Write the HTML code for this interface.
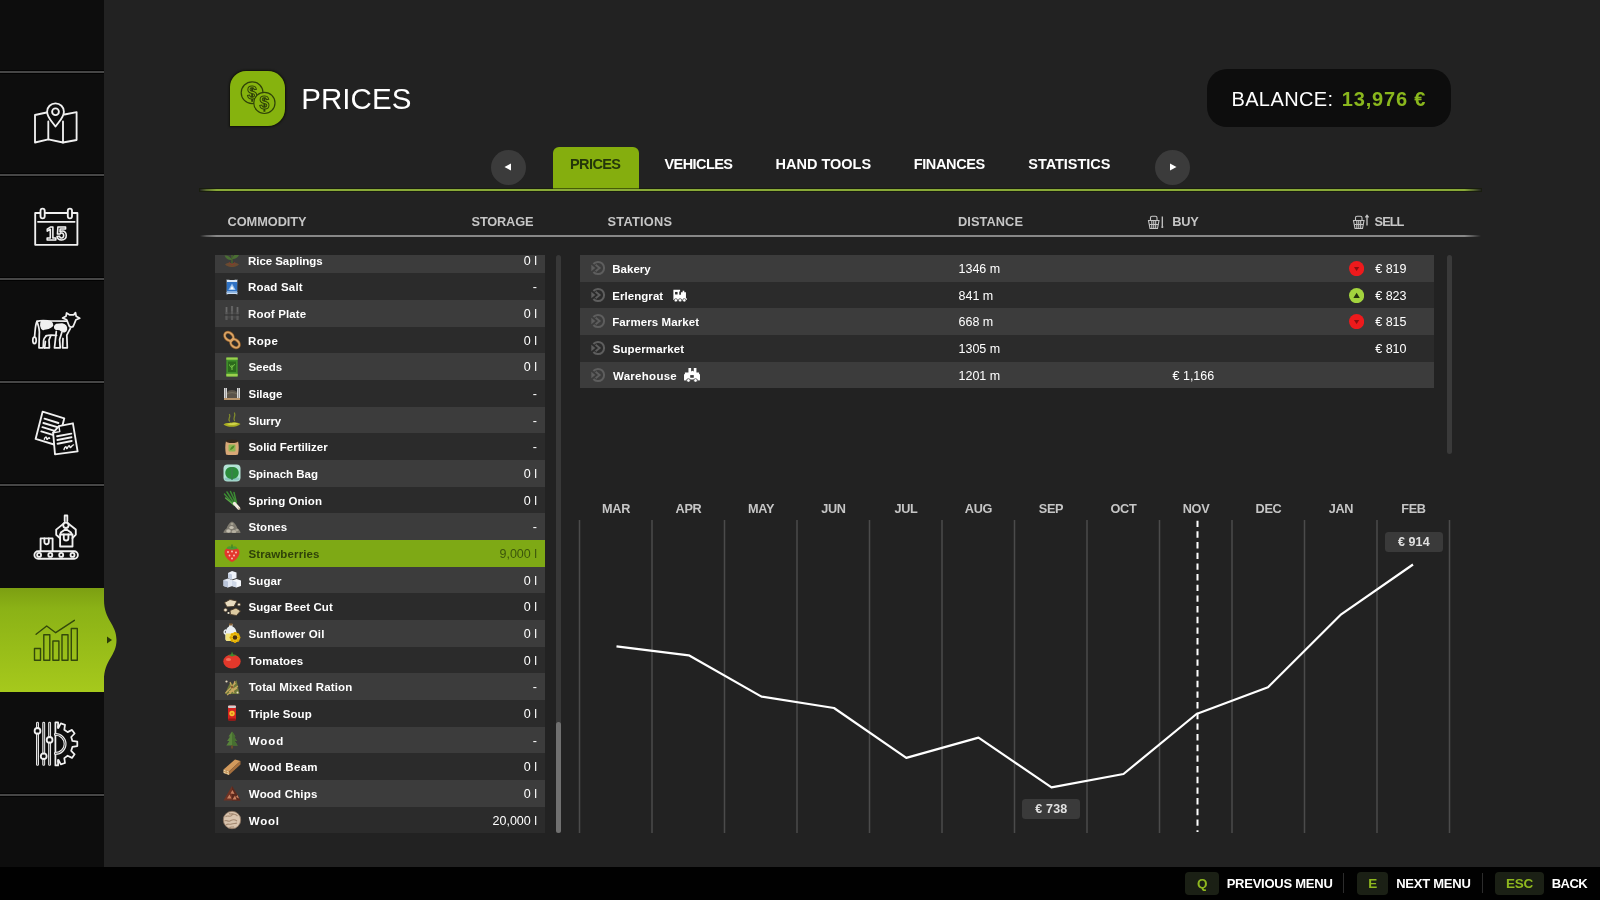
<!DOCTYPE html>
<html lang="en">
<head>
<meta charset="utf-8">
<title>Prices</title>
<style>
*{box-sizing:border-box;margin:0;padding:0}
html,body{width:1600px;height:900px;overflow:hidden;background:#222}
body{will-change:transform;position:relative;font-family:"Liberation Sans",sans-serif;color:#fff;font-weight:bold}
.abs{position:absolute}
.t{position:absolute;white-space:nowrap;color:#fff}
/* sidebar */
#side{position:absolute;left:0;top:0;width:104px;height:867px;background:#0d0d0d}
#side .sep{position:absolute;left:0;width:104px;height:4px;background:linear-gradient(#030303 0,#030303 25%,#464646 25%,#464646 75%,#020202 75%,#020202 100%)}
#side .sepl{position:absolute;left:0;width:104px;height:1px;background:#4d4d4d}
#side .sh{position:absolute;left:0;width:104px;height:3px;background:#070707}
#act{position:absolute;left:0;top:588px;width:104px;height:104px;background:linear-gradient(#7c9f12,#8bb216 20%,#a6c91c)}
.sico{position:absolute}
/* bottom bar */
#bot{position:absolute;left:0;top:866.500px;width:1600px;height:34px;background:#010101}
.key{position:absolute;top:5.500px;height:23px;border-radius:4px;background:#1b2015;color:#8fb81f;font-size:13.500px;letter-spacing:-0.300px;line-height:23px;text-align:center}
.kl{position:absolute;top:6px;height:23px;line-height:23px;font-size:13.5px;color:#fff;white-space:nowrap}
.ks{position:absolute;top:6.500px;width:1px;height:20px;background:#2c2c2c}
/* header */
#ticon{position:absolute;left:230px;top:70.700px;width:55.200px;height:55.300px;background:#86b30e;border-radius:16px 17px 17px 0;box-shadow:0 0 2px 1px rgba(10,12,0,.7)}
#title{position:absolute;left:302px;top:80px;font-size:30px;line-height:38px;font-weight:normal;color:#fff;letter-spacing:-0.6px}
#bal{position:absolute;left:1207px;top:69px;width:244px;height:58px;border-radius:20px;background:#0d0d0d}
#bal span{position:absolute;top:18px;font-size:20.5px;line-height:24px;font-weight:normal;white-space:nowrap}
/* tabs */
.cbtn{position:absolute;width:35px;height:35px;border-radius:50%;background:#3b3b3b}
#tab{position:absolute;left:553px;top:146.800px;width:85.700px;height:43.500px;background:#85ae0e;border-radius:6px 6px 0 0}
.tl{position:absolute;top:155px;font-size:14.5px;line-height:18px;white-space:nowrap;color:#fff}
#gline{position:absolute;left:200px;top:188.500px;width:1281px;height:2px;background:linear-gradient(90deg,rgba(137,170,56,0),rgba(137,170,56,.55) .5%,#89aa38 1.300%,#89aa38 98.700%,rgba(137,170,56,.5) 99.400%,rgba(137,170,56,0));box-shadow:0 0 0 1px rgba(18,26,0,.55)}
#hline{position:absolute;left:200px;top:235px;width:1281px;height:2px;background:linear-gradient(90deg,rgba(136,136,136,0),rgba(136,136,136,.55) .5%,#888 1.300%,#888 98.700%,rgba(136,136,136,.5) 99.400%,rgba(136,136,136,0))}
.th{position:absolute;top:213px;font-size:13px;line-height:16px;color:#c6c6c6;white-space:nowrap}
/* commodity list */
#list{position:absolute;left:215px;top:254.500px;width:330px;height:578.800px;overflow:hidden}
.r{position:absolute;left:0;width:330px;height:26.670px;font-size:11.5px;line-height:26.670px}
.r.a,.s.a{background:#3c3c3c}
.r.b,.s.b{background:#2b2b2b}
.r.sel{background:#7ea915;color:#2f4209}
.r .ci{position:absolute;left:7px;top:3.300px;width:20px;height:20px}
.r .n{position:absolute;top:1px;white-space:nowrap}
.r .v{position:absolute;right:8px;top:1px;font-weight:normal;font-size:12.5px}
.r.sel .v{color:#3c560b}
#sb1{position:absolute;left:556.300px;top:254.500px;width:5.200px;height:578.500px;background:#383838;border-radius:2.500px}
#sb1t{position:absolute;left:556.300px;top:722px;width:5.200px;height:111px;background:#707070;border-radius:2.500px}
/* stations */
#st{position:absolute;left:579.500px;top:255px;width:854px;height:134px}
.s{position:absolute;left:0;width:854px;height:26.670px;font-size:11.5px;line-height:26.670px}
.s .hot{position:absolute;left:10px;top:5px;width:16px;height:16px}
.s .n{position:absolute;top:1px;white-space:nowrap}
.s .si{position:absolute}
.s .d{position:absolute;left:379px;top:1px;font-weight:normal;font-size:12.5px}
.s .buy{position:absolute;left:593px;top:1px;font-weight:normal;font-size:12.5px}
.s .sell{position:absolute;right:27px;top:1px;font-weight:normal;font-size:12.5px}
.s .tr{position:absolute;left:769.700px;top:5.600px;width:15.200px;height:15.200px}
#sb2{position:absolute;left:1446.700px;top:254.800px;width:5.500px;height:199.500px;background:#3a3a3a;border-radius:2.500px}
/* chart */
.mon{position:absolute;top:501.300px;width:60px;text-align:center;font-size:12.700px;letter-spacing:-0.300px;line-height:16px;color:#c6c6c6}
.vl{position:absolute;top:520px;width:1.500px;height:313px;background:#4b4b4b}
.lab{position:absolute;height:20.300px;border-radius:3.500px;background:#3a3a3a;color:#e6e6e6;font-size:12.5px;line-height:20.500px;text-align:center;font-weight:normal}
</style>
</head>
<body>
<!-- sidebar -->
<div id="side">
  <div id="act"></div>
  <div class="sep" style="top:70.00px"></div>
  <div class="sep" style="top:173.33px"></div>
  <div class="sep" style="top:276.67px"></div>
  <div class="sep" style="top:380.00px"></div>
  <div class="sep" style="top:483.33px"></div>
  <div class="sep" style="top:793.33px"></div>
</div>
<svg class="abs" style="left:100px;top:588px" width="24" height="104" viewBox="0 0 24 104">
  <defs><linearGradient id="gg" x1="0" y1="0" x2="0" y2="1"><stop offset="0" stop-color="#7c9f12"/><stop offset=".2" stop-color="#8bb216"/><stop offset="1" stop-color="#a6c91c"/></linearGradient></defs>
  <path d="M0 0H4V12C4 32 16.500 36 16.500 52C16.500 68 4 72 4 92V104H0Z" fill="url(#gg)"/>
  <path d="M7 48.500l5 3.500-5 3.500z" fill="#2a3a08"/>
</svg>
<!-- sidebar icons -->
<svg class="sico" style="left:32px;top:100px" width="48" height="48" viewBox="0 0 48 48" fill="none" stroke="#f0f0f0" stroke-width="1.85" stroke-linejoin="round" stroke-linecap="round">
<path d="M14.600 12.500L3 15V42.500L16.300 39.300 31 42.500 44.600 40V12.100L32.500 14.500"/>
<path d="M16.300 21.500V39.300M31 21.500V42.500"/>
<path d="M23.500 26.600C20 21.500 15.100 17.300 15.100 11.700a8.400 8.400 0 0 1 16.800 0C31.900 17.300 27 21.500 23.500 26.600z"/>
<circle cx="23.500" cy="11.700" r="3.400"/></svg>
<svg class="sico" style="left:32px;top:203px" width="48" height="48" viewBox="0 0 48 48" fill="none" stroke="#f0f0f0" stroke-width="1.85" stroke-linejoin="round" stroke-linecap="round">
<rect x="3.200" y="10" width="42.200" height="31.800"/>
<path d="M6 18.800h36.600"/>
<rect x="8.500" y="5.600" width="4.200" height="9.700" rx="2.100" fill="#0d0d0d"/>
<rect x="35.800" y="5.600" width="4.200" height="9.700" rx="2.100" fill="#0d0d0d"/>
<text x="24.600" y="36.600" text-anchor="middle" font-family="Liberation Sans, sans-serif" font-weight="bold" font-size="18.500" fill="#0d0d0d" stroke="#f0f0f0" stroke-width="1.500" letter-spacing="0.300">15</text></svg>
<svg class="sico" style="left:30px;top:308px" width="54" height="46" viewBox="0 0 54 46" fill="none" stroke="#f0f0f0" stroke-width="1.75" stroke-linejoin="round" stroke-linecap="round">
<path d="M7 13.500C5.300 16 5.200 22 4.600 28.500"/>
<ellipse cx="4.500" cy="32.300" rx="1.700" ry="3.300"/>
<path d="M7 13.300C10.500 12.200 14 12.500 18 12.800L36.600 13.200"/>
<path d="M7 13.500C8.500 18 10 21.500 9.300 26.500L9 39.800H13.200L13.600 32.500C14 30.500 15 29 16.200 27.800"/>
<path d="M14.600 39.800H19.400L19 32 20.800 27.600"/>
<path d="M14.600 39.800L15.400 33.500"/>
<path d="M16.200 27.800C19 26.800 23 27.200 26.500 27.400"/>
<path d="M26.300 23.500L24.500 39.800H30.200L29.600 31.500 31.800 24.500"/>
<path d="M40.400 20.300L36.800 27.200 37.300 39.800H32.600L33 30.500"/>
<path d="M36.700 11.800L32.600 10 36 8.300 36.600 5 39.800 6.900H43.700L45.500 4.600 46.200 8.300 49.700 10.300 46 11.700 43.600 17.500C43.400 18.800 42.500 19 41.300 19S39.200 18.800 39 17.500z"/>
<path d="M11.800 13.300C10.200 16 10.700 20.300 13.200 21.400 16 20.400 20.500 20.400 22.400 17.500 22.400 15 20.500 13.500 18 13.200z" fill="#f0f0f0"/>
<path d="M26.600 16.500C24.600 17.500 24.200 19.800 25.600 20.900 28 21.400 30 20.500 31.500 22.800 33.400 24.300 35.800 23.800 36.300 21.500 36.800 18.600 35 16.600 32 16.100z" fill="#f0f0f0"/></svg>
<svg class="sico" style="left:32px;top:408px" width="50" height="50" viewBox="0 0 50 50" fill="none" stroke="#f0f0f0" stroke-width="1.85" stroke-linejoin="round" stroke-linecap="round">
<path d="M10.6 3.7L32.3 10.3L25.3 37.5L3.6 30.9z"/>
<path d="M12.5 10.7L26.4 15.0M11.4 15.0L25.3 19.2M10.4 19.2L24.2 23.4M9.3 23.4L23.2 27.6" stroke-width="1.900"/>
<path d="M12.300 31.200c.800-2.500 2.200-3 2.500-.500s2-2.800 2.800-.300" stroke-width="1.400"/>
<path d="M26.9 18.1L40.9 15.3L45.6 43.3L23 46.4L21.1 24.7z" fill="#0d0d0d"/>
<path d="M26.9 18.1L27.800 23.600 21.1 24.7" stroke-width="1.400"/>
<path d="M25.1 28.3L39.3 25.6M25.4 32.0L39.5 29.3M25.6 35.7L39.7 33.0" stroke-width="1.900"/>
<path d="M32 41.500c.800-3 2.300-3.600 2.600-1.200.300 1.600 1.500-2.800 2.600-2.600.900.200.300 2.400 1.500 1.600 1-.800 1.800-2.500 2.800-2.400" stroke-width="1.400"/></svg>
<svg class="sico" style="left:32px;top:512px" width="48" height="50" viewBox="0 0 48 50" fill="none" stroke="#f0f0f0" stroke-width="1.85" stroke-linejoin="round" stroke-linecap="round">
<rect x="2.400" y="39.200" width="43.500" height="7.500" rx="3.750"/>
<circle cx="7.100" cy="42.900" r="2"/><circle cx="18.300" cy="42.900" r="2"/><circle cx="29.200" cy="42.900" r="2"/><circle cx="40.500" cy="42.900" r="2"/>
<path d="M8.600 39.200V26.400H20.600V39.200"/>
<path d="M12.400 26.400V30a2.200 2.200 0 0 0 4.400 0V26.400"/>
<rect x="28.100" y="22.500" width="12.400" height="12"/>
<path d="M31.800 22.500V26.200a2.300 2.300 0 0 0 4.600 0V22.500"/>
<path d="M32.700 9V3.500H35.300V9"/>
<circle cx="33.900" cy="13.200" r="2.700"/>
<path d="M31.600 11.600L24.200 17.600V22.700L28.100 26.200M36.200 11.600L43.800 17.600V22.700L40.500 26.200"/>
<path d="M28.400 22.300L28.800 20.600 33.900 17 39 20.600 39.600 22.300"/></svg>
<svg class="sico" style="left:32px;top:616px" width="48" height="48" viewBox="0 0 48 48" fill="none" stroke="#33480b" stroke-width="1.4" stroke-linejoin="round" stroke-linecap="round">
<path d="M4.100 18.300L14.700 10 23.700 16.700 42.400 4.300"/>
<rect x="2.500" y="32.500" width="6" height="11.700"/>
<rect x="11.800" y="18.800" width="6" height="25.400"/>
<rect x="20.900" y="25" width="6" height="19.200"/>
<rect x="30" y="18.800" width="6" height="25.400"/>
<rect x="39.300" y="12.500" width="6" height="31.700"/></svg>
<svg class="sico" style="left:32px;top:718px" width="48" height="52" viewBox="0 0 48 52" fill="none" stroke="#f0f0f0" stroke-width="1.75" stroke-linejoin="round" stroke-linecap="round">
<path d="M5.500 5.200V9.800M5.500 16V46.400M11.700 5.200V35.100M11.700 41.300V46.400M17.600 5.200V18.800M17.600 25V46.400" stroke-width="2.900"/>
<path d="M5.500 5.200V9.800M5.500 16V46.400M11.700 5.200V35.100M11.700 41.300V46.400M17.600 5.200V18.800M17.600 25V46.400" stroke="#0d0d0d" stroke-width="0.700"/>
<circle cx="5.500" cy="12.900" r="2.900" stroke-width="1.800"/><circle cx="11.700" cy="38.200" r="2.900" stroke-width="1.800"/><circle cx="17.600" cy="21.900" r="2.900" stroke-width="1.800"/>
<path d="M23.400 4.400H26.100V8.500 M23.400 4.400V47.400H26.100V43.500" />
<path d="M26.1 9.8L26.5 9.8L28.8 5.4L33.0 6.8L32.3 11.7L35.6 14.1L40.0 11.9L42.6 15.5L39.2 19.0L40.4 22.9L45.3 23.7L45.3 28.1L40.4 28.9L39.2 32.8L42.6 36.3L40.0 39.9L35.6 37.7L32.3 40.1L33.0 45.0L28.8 46.4L26.5 42.0L26.1 42.0"/>
<path d="M26.100 8.300V9.8M26.100 43.600V42.0"/>
<path d="M23.400 16.400h.200a9.500 9.500 0 0 1 0 19h-.200" stroke-width="2.900"/>
<path d="M23.400 16.400h.200a9.500 9.500 0 0 1 0 19h-.200" stroke="#0d0d0d" stroke-width="0.700"/></svg>

<!-- title -->
<div id="ticon"></div>
<svg class="abs" style="left:238px;top:79px" width="42" height="40" viewBox="0 0 42 40" fill="none" stroke="#2f4209" stroke-width="1.200">
  <circle cx="14.100" cy="13.700" r="10.900"/>
  <text x="14.100" y="19.900" text-anchor="middle" font-family="Liberation Sans, sans-serif" font-weight="bold" font-size="17.500" fill="#86b30e" stroke="#2f4209" stroke-width="1">$</text>
  <circle cx="26.400" cy="23.900" r="10.600" fill="#86b30e"/>
  <text x="26.400" y="30.100" text-anchor="middle" font-family="Liberation Sans, sans-serif" font-weight="bold" font-size="17.500" fill="#86b30e" stroke="#2f4209" stroke-width="1">$</text>
</svg>
<div id="bal"></div>

<!-- tabs -->
<div class="cbtn" style="left:490.500px;top:149.500px"></div>
<svg class="abs" style="left:503px;top:162px" width="10" height="10" viewBox="0 0 10 10"><path d="M8 1.500v7L1.500 5z" fill="#fff"/></svg>
<div class="cbtn" style="left:1155px;top:149.500px"></div>
<svg class="abs" style="left:1168px;top:162px" width="10" height="10" viewBox="0 0 10 10"><path d="M2 1.500v7L8.500 5z" fill="#fff"/></svg>
<div id="tab"></div>
<div id="gline"></div>

<!-- table head -->
<svg class="abs" style="left:1146.500px;top:214px" width="18" height="16" viewBox="0 0 18 16" fill="none" stroke="#c6c6c6" stroke-width="1.100">
  <path d="M1.500 6.500h10.500l-1.500 8h-7.500z"/><path d="M3.500 6.500V3.800a1.500 1.500 0 0 1 1.500-1.500h3.500a1.500 1.500 0 0 1 1.500 1.500V6.500"/><path d="M4.800 7v7M6.750 7v7M8.700 7v7M2.300 10.500h9"/><path d="M15.300 2.500v9.500" stroke-width="1.300"/><circle cx="15.300" cy="13" r="1.100" fill="#c6c6c6" stroke="none"/>
</svg>
<svg class="abs" style="left:1352px;top:214px" width="18" height="16" viewBox="0 0 18 16" fill="none" stroke="#c6c6c6" stroke-width="1.100">
  <path d="M1.500 6.500h10.500l-1.500 8h-7.500z"/><path d="M3.500 6.500V3.800a1.500 1.500 0 0 1 1.500-1.500h3.500a1.500 1.500 0 0 1 1.500 1.500V6.500"/><path d="M4.800 7v7M6.750 7v7M8.700 7v7M2.300 10.500h9"/><path d="M15 11.500V1.500M13.400 3.300L15 1.300l1.600 2" stroke-width="1.300"/>
</svg>
<div id="hline"></div>

<!-- commodity list -->
<div id="list">
<div class="r a" style="top:-7.83px"><svg class="ci" viewBox="0 0 20 20"><path d="M10 15V5" stroke="#44602e" stroke-width="1.600" fill="none"/><path d="M10 10C8 6 5 5 2.500 5.500 4 9 7 10.500 10 10zM10 9C11 5 14 3.500 17.500 4 16 8 13 9.500 10 9z" fill="#4a6e33"/><path d="M3 14.500c2-2 5-2.500 7-1 2-1.500 5-1 7 1-2 2-5 2.500-7 2.500S5 16.500 3 14.500z" fill="#6a4a30"/><path d="M7 12.500l3 2.500 3-2.500" stroke="#8a3a2a" stroke-width="1" fill="none"/></svg><span class="n" style="left:33.05px;letter-spacing:-0.065px">Rice Saplings</span><span class="v">0 l</span></div>
<div class="r b" style="top:18.83px"><svg class="ci" viewBox="0 0 20 20"><path d="M4.500 2.500c1.500.600 9.500.600 11 0-.500 2-.500 13 0 15-1.500-.600-9.500-.600-11 0 .500-2 .500-13 0-15z" fill="#dce9f7"/><rect x="4.800" y="5" width="10.400" height="9.500" fill="#2f72c4"/><path d="M10 6.500l3.600 6.500H6.400z" fill="#9cc4ee"/><path d="M10 9l1.800 3.300H8.200z" fill="#fff"/><rect x="4.500" y="15" width="11" height="1.200" fill="#8fb6e2"/></svg><span class="n" style="left:33.05px;letter-spacing:0.193px">Road Salt</span><span class="v">-</span></div>
<div class="r a" style="top:45.50px"><svg class="ci" viewBox="0 0 20 20"><path d="M3 9.500h14v6H3z" fill="#454545"/><path d="M4.500 4v13M10 3v14M15.500 4v13" stroke="#5a5a5a" stroke-width="2.200"/><path d="M4.500 4v5M10 3v5M15.500 4v5" stroke="#6a6a6a" stroke-width="1"/><path d="M2 12h16" stroke="#333" stroke-width="1.200"/></svg><span class="n" style="left:33.05px;letter-spacing:0.142px">Roof Plate</span><span class="v">0 l</span></div>
<div class="r b" style="top:72.17px"><svg class="ci" viewBox="0 0 20 20"><g fill="none" stroke-linecap="round"><ellipse cx="7" cy="6.500" rx="4.800" ry="3.600" transform="rotate(40 7 6.500)" stroke="#8a5a2a" stroke-width="3"/><ellipse cx="13" cy="13.500" rx="4.800" ry="3.600" transform="rotate(40 13 13.500)" stroke="#8a5a2a" stroke-width="3"/><ellipse cx="7" cy="6.500" rx="4.800" ry="3.600" transform="rotate(40 7 6.500)" stroke="#d9a466" stroke-width="1.700"/><ellipse cx="13" cy="13.500" rx="4.800" ry="3.600" transform="rotate(40 13 13.500)" stroke="#d9a466" stroke-width="1.700"/><path d="M8.500 11.500l3-3" stroke="#d9a466" stroke-width="2"/></g></svg><span class="n" style="left:33.05px;letter-spacing:0.367px">Rope</span><span class="v">0 l</span></div>
<div class="r a" style="top:98.83px"><svg class="ci" viewBox="0 0 20 20"><rect x="4.300" y=".500" width="11.400" height="19" rx="1" fill="#3f8f2a"/><rect x="4.300" y=".500" width="11.400" height="2.200" fill="#9bd04e"/><rect x="4.300" y="16.800" width="11.400" height="2.700" fill="#9bd04e"/><rect x="6" y="4.500" width="8" height="10.500" fill="#2c6a1c"/><path d="M10 13V8M10 10.500c-1.500-.500-2.300-1.500-2.500-3M10 9.500c1.500-.300 2.300-1.200 2.500-2.500" stroke="#7cc84a" stroke-width="1" fill="none"/></svg><span class="n" style="left:33.46px;letter-spacing:-0.041px">Seeds</span><span class="v">0 l</span></div>
<div class="r b" style="top:125.50px"><svg class="ci" viewBox="0 0 20 20"><rect x="2" y="5" width="3" height="11" fill="#d6d6d6"/><rect x="15" y="5" width="3" height="11" fill="#d6d6d6"/><rect x="3" y="5" width="1" height="11" fill="#9a9a9a"/><rect x="16" y="5" width="1" height="11" fill="#9a9a9a"/><path d="M5 15.500V9c1.500-2.800 8.500-2.800 10 0v6.500z" fill="#5a5349"/><path d="M5 11c2-1.800 8-1.800 10 0" stroke="#77705f" stroke-width="1" fill="none"/><rect x="2" y="15" width="16" height="2" fill="#b8946a"/></svg><span class="n" style="left:33.46px;letter-spacing:0.016px">Silage</span><span class="v">-</span></div>
<div class="r a" style="top:152.17px"><svg class="ci" viewBox="0 0 20 20"><path d="M1.500 14.500c3-2.200 6-1.200 8.500-2 2.500-.800 6 0 8.500 1.500-2 2.200-6 2.800-9 2.800s-6-.500-8-2.300z" fill="#a9ad22"/><path d="M5 14c2-1 4-.500 6-1s4 0 5 .800c-2 1-4 1.200-6 1.200s-4-.200-5-1z" fill="#d0d44a"/><path d="M7.500 11c-2-2 1.500-3.500 0-6.500M12.500 10.500c-2-2 1.500-4 0-7.500" stroke="#7f8a2c" stroke-width="1.300" fill="none" stroke-linecap="round"/></svg><span class="n" style="left:33.46px;letter-spacing:-0.087px">Slurry</span><span class="v">-</span></div>
<div class="r b" style="top:178.83px"><svg class="ci" viewBox="0 0 20 20"><path d="M4 4c1 1 11 1 12 0 1 4 1 9 0 13.500-1.500.800-10.500.800-12 0C3 13 3 8 4 4z" fill="#d9a877"/><ellipse cx="10" cy="4.200" rx="6" ry="1.800" fill="#33261b"/><rect x="6.500" y="7.500" width="7" height="7" rx="1" fill="#8fb552"/><path d="M8 13c.500-2.500 2-4 4.500-4.500-.300 2.500-2 4-4.500 4.500z" fill="#4f8a2a"/></svg><span class="n" style="left:33.46px;letter-spacing:-0.001px">Solid Fertilizer</span><span class="v">-</span></div>
<div class="r a" style="top:205.50px"><svg class="ci" viewBox="0 0 20 20"><rect x="1.500" y="1.500" width="17" height="17" rx="4" fill="#b3e3d6"/><rect x="2.500" y="14.500" width="15" height="3" rx="1.500" fill="#8cc7c0"/><path d="M9.700 16C5 16 2.500 12 3.500 8 4.500 5 7.500 3.500 9.700 4zM10.300 16c4.700 0 7.200-4 6.200-8-1-3-4-4.500-6.200-4z" fill="#2c8c3c"/><path d="M10 4v13" stroke="#1b5e2a" stroke-width="1"/></svg><span class="n" style="left:33.46px;letter-spacing:-0.014px">Spinach Bag</span><span class="v">0 l</span></div>
<div class="r b" style="top:232.17px"><svg class="ci" viewBox="0 0 20 20"><g fill="none" stroke-linecap="round"><path d="M2.500 4l9.500 11M5 2l8 12.500M8.500 1.500l5.500 12M12 2.500l2.500 10.500" stroke="#3b8c33" stroke-width="1.500"/><path d="M3.500 8l8.500 7" stroke="#5aa848" stroke-width="1.200"/><path d="M12.500 13.500l4 4.500" stroke="#f3ece2" stroke-width="3.200"/><path d="M16.500 18l1.500 1" stroke="#cdb79a" stroke-width="1.200"/></g></svg><span class="n" style="left:33.46px;letter-spacing:0.058px">Spring Onion</span><span class="v">0 l</span></div>
<div class="r a" style="top:258.83px"><svg class="ci" viewBox="0 0 20 20"><path d="M1.500 16c0-2 1.500-3.500 3-4.500C5.500 8.500 7.500 5.500 10 4.500c2.500 1 4.500 4 5.500 7 1.500 1 3 2.500 3 4.500z" fill="#7f7b70"/><ellipse cx="6.500" cy="14" rx="2.300" ry="1.700" fill="#c3beaf"/><ellipse cx="12" cy="14.500" rx="2.400" ry="1.600" fill="#b5b0a1"/><ellipse cx="9.500" cy="10.500" rx="2.200" ry="1.600" fill="#c3beaf"/><ellipse cx="15" cy="13" rx="1.600" ry="1.200" fill="#a9a495"/><ellipse cx="10" cy="7" rx="1.500" ry="1.100" fill="#a9a495"/></svg><span class="n" style="left:33.46px;letter-spacing:0.070px">Stones</span><span class="v">-</span></div>
<div class="r sel" style="top:285.50px"><svg class="ci" viewBox="0 0 20 20"><path d="M10 19C4.500 16.500 1.500 11.500 2.800 7.500 3.800 4.800 7 4.500 10 5.500c3-1 6.200-.700 7.200 2C18.500 11.500 15.500 16.500 10 19z" fill="#e3362d"/><path d="M4.500 5.500C5.500 3 8 2.500 10 4c2-1.500 4.500-1 5.500 1.500-3 1.500-8 1.500-11 0z" fill="#4c9a2f"/><path d="M9.300 1.500h1.400V5H9.300z" fill="#3f8427"/><g fill="#f8cdbb"><circle cx="6" cy="9" r=".900"/><circle cx="10" cy="8.500" r=".900"/><circle cx="14" cy="9.500" r=".900"/><circle cx="7.500" cy="12.500" r=".900"/><circle cx="12" cy="12.500" r=".900"/><circle cx="10" cy="15.500" r=".900"/></g></svg><span class="n" style="left:33.46px;letter-spacing:0.120px">Strawberries</span><span class="v">9,000 l</span></div>
<div class="r a" style="top:312.17px"><svg class="ci" viewBox="0 0 20 20"><path d="M6 3l4-2 4.500 1.500V8L10 9.500 6 8z" fill="#eef2f9"/><path d="M6 3l4 1.500V9.500L6 8z" fill="#c4cee0"/><path d="M1.500 10L6 8.500l4.500 1.500v6L6 17.500 1.500 16z" fill="#e2e8f3"/><path d="M1.500 10L6 11.500V17.500L1.500 16z" fill="#b9c4d9"/><path d="M10 10.500L14.500 9 19 10.500v5.500L14.500 17.500 10 16z" fill="#f6f8fc"/><path d="M10 10.500l4.500 1.500V17.500L10 16z" fill="#cfd8e8"/></svg><span class="n" style="left:33.46px;letter-spacing:0.129px">Sugar</span><span class="v">0 l</span></div>
<div class="r b" style="top:338.83px"><svg class="ci" viewBox="0 0 20 20"><path d="M2.500 5.500L8 2.500l7 1.500-3 5.500-7 .500z" fill="#e9dcc0" stroke="#4a3a28" stroke-width=".900"/><path d="M8 13.500l6-2.500 4.500 3-4 4.500-6-1z" fill="#dcc9a0" stroke="#4a3a28" stroke-width=".900"/><circle cx="3.500" cy="13" r="1.800" fill="#f2e8d0" stroke="#4a3a28" stroke-width=".700"/><circle cx="17" cy="7.500" r="1.500" fill="#f2e8d0" stroke="#4a3a28" stroke-width=".700"/><circle cx="6.500" cy="16" r="1.100" fill="#f2e8d0"/></svg><span class="n" style="left:33.46px;letter-spacing:0.095px">Sugar Beet Cut</span><span class="v">0 l</span></div>
<div class="r a" style="top:365.50px"><svg class="ci" viewBox="0 0 20 20"><path d="M7 1h3.500v2.500c2.500 1.200 4 3.500 4 6.500v6c0 1.200-1 2-2 2h-7c-1.200 0-2-.800-2-2v-6c0-3 1.500-5.300 3.500-6.500z" fill="#e9eff3"/><path d="M3.500 10.500h11V16c0 1.200-1 2-2 2h-7c-1.200 0-2-.800-2-2z" fill="#f1e27a"/><rect x="7" y=".500" width="3.500" height="2" fill="#8a6436"/><path d="M4 7c-2.500 0-2.500 4 0 4" stroke="#e9eff3" stroke-width="1.300" fill="none"/><g transform="translate(13 14.500)"><circle r="5" fill="#f2c81a"/><g fill="#e0a800"><circle cx="0" cy="-4.200" r="1.300"/><circle cx="3" cy="-3" r="1.300"/><circle cx="4.200" cy="0" r="1.300"/><circle cx="3" cy="3" r="1.300"/><circle cx="0" cy="4.200" r="1.300"/><circle cx="-3" cy="3" r="1.300"/><circle cx="-4.200" cy="0" r="1.300"/><circle cx="-3" cy="-3" r="1.300"/></g><circle r="2.300" fill="#4a3010"/></g></svg><span class="n" style="left:33.46px;letter-spacing:0.153px">Sunflower Oil</span><span class="v">0 l</span></div>
<div class="r b" style="top:392.17px"><svg class="ci" viewBox="0 0 20 20"><ellipse cx="10" cy="11.500" rx="8.700" ry="7" fill="#e2382b"/><ellipse cx="6.500" cy="9.500" rx="2.600" ry="1.600" fill="#f2705c"/><path d="M10 6.500L6 5l3-.500L10 1.500l1.200 3L15 5z" fill="#3c8c2e"/></svg><span class="n" style="left:33.69px;letter-spacing:0.157px">Tomatoes</span><span class="v">0 l</span></div>
<div class="r a" style="top:418.83px"><svg class="ci" viewBox="0 0 20 20"><path d="M3 17l3-7 2.500-5 3 3 3-5 3 14z" fill="#6f7a3a"/><path d="M3.500 16l10-10M5 18l10-7M8 5l4 11M13 4l-5 13M16 9l-9 6" stroke="#c9a860" stroke-width="1.100" fill="none"/><circle cx="4.500" cy="4.500" r="1.100" fill="#e8dcc0"/><circle cx="15.500" cy="15.500" r="1" fill="#e8dcc0"/><circle cx="10" cy="10" r="1.200" fill="#8a5a30"/></svg><span class="n" style="left:33.69px;letter-spacing:0.125px">Total Mixed Ration</span><span class="v">-</span></div>
<div class="r b" style="top:445.50px"><svg class="ci" viewBox="0 0 20 20"><rect x="6" y="2.500" width="8" height="15" rx="1.500" fill="#d4221f"/><rect x="6" y="2.500" width="8" height="2.600" rx="1" fill="#cfcfcf"/><rect x="6" y="15.500" width="8" height="2" rx="1" fill="#9c1512"/><circle cx="10" cy="10.500" r="2.700" fill="#f4c22d"/><circle cx="10" cy="10.500" r="1.100" fill="#e5781e"/></svg><span class="n" style="left:33.69px;letter-spacing:0.036px">Triple Soup</span><span class="v">0 l</span></div>
<div class="r a" style="top:472.17px"><svg class="ci" viewBox="0 0 20 20"><path d="M10 1.500l3.500 5h-1.600l3 4.500h-2.200l3 4.500H4.300l3-4.500H5.100l3-4.500H6.500z" fill="#58833b"/><path d="M10 1.500l3.500 5h-1.600l3 4.500h-2.200l3 4.500H10z" fill="#476f30"/><rect x="9" y="15.500" width="2" height="3" fill="#6b4a2a"/></svg><span class="n" style="left:33.80px;letter-spacing:0.902px">Wood</span><span class="v">-</span></div>
<div class="r b" style="top:498.83px"><svg class="ci" viewBox="0 0 20 20"><path d="M1.500 12.500L13 2.500l5.500 1.500L7 14.500z" fill="#d39a5c"/><path d="M7 14.500L18.500 4v3.500L7 18z" fill="#a8713e"/><path d="M1.500 12.500L7 14.500V18l-5.500-2z" fill="#f0d4a0"/><path d="M4.200 13.500v3.500M1.500 14.200l5.500 2" stroke="#b98850" stroke-width=".800"/></svg><span class="n" style="left:33.80px;letter-spacing:0.319px">Wood Beam</span><span class="v">0 l</span></div>
<div class="r a" style="top:525.50px"><svg class="ci" viewBox="0 0 20 20"><path d="M1.500 17.500L10 3l8.500 14.500z" fill="#6f3324"/><path d="M10 3l8.500 14.500H10z" fill="#5a281c"/><path d="M5 15.500l2.500-4 2 4zM8.500 10.500l2-3.500 2 4zM10.500 16.500l2.500-4 1.500 4zM14 14l1.500-2 1.500 3.500z" fill="#c98060"/></svg><span class="n" style="left:33.80px;letter-spacing:0.187px">Wood Chips</span><span class="v">0 l</span></div>
<div class="r b" style="top:552.17px"><svg class="ci" viewBox="0 0 20 20"><circle cx="10" cy="10" r="8.700" fill="#d9c4ae"/><path d="M3.500 7c2-2.500 4.500.500 6-1.500s4-1.500 6 .500M2.500 11c2-1.500 3.500 1 5.500 0s3.500-2.500 7 0M4 15c2-2 3.500 0 5.500-1s3.500 0 5.500-1M7 3.500c1.500 1 3 0 4.500.500M7.500 17.500c1.500-1 3 0 4.500-.700" stroke="#a58a72" stroke-width="1.100" fill="none"/><circle cx="10" cy="10" r="8.700" fill="none" stroke="#8c7460" stroke-width=".800"/></svg><span class="n" style="left:33.80px;letter-spacing:0.753px">Wool</span><span class="v">20,000 l</span></div>
</div>
<div id="sb1"></div><div id="sb1t"></div>

<!-- stations -->
<div id="st">
<div class="s a" style="top:0.00px"><svg class="hot" viewBox="0 0 16 16"><path d="M3.400 4A6.100 6.100 0 1 1 3.400 12" fill="none" stroke="#5e5e5e" stroke-width="2"/><path d="M1.300 4.800L5.300 8 1.300 11.200z" fill="#5e5e5e"/><path d="M5.600 4.800L9.600 8 5.600 11.200" fill="none" stroke="#5e5e5e" stroke-width="1.900"/></svg><span class="n" style="left:32.75px;letter-spacing:0.011px">Bakery</span><span class="d">1346 m</span><span class="buy"></span><svg class="tr" viewBox="0 0 16 16"><circle cx="8" cy="8" r="8" fill="#ee1a1c"/><path d="M5.200 6.200h5.600L8 10.600z" fill="#8a0f10"/></svg><span class="sell">€ 819</span></div>
<div class="s b" style="top:26.67px"><svg class="hot" viewBox="0 0 16 16"><path d="M3.400 4A6.100 6.100 0 1 1 3.400 12" fill="none" stroke="#5e5e5e" stroke-width="2"/><path d="M1.300 4.800L5.300 8 1.300 11.200z" fill="#5e5e5e"/><path d="M5.600 4.800L9.600 8 5.600 11.200" fill="none" stroke="#5e5e5e" stroke-width="1.900"/></svg><span class="n" style="left:32.75px;letter-spacing:0.054px">Erlengrat</span><svg class="si" style="left:92.39999999999998px;top:7.300px;width:16.200px;height:13px" viewBox="0 0 18 15.500"><path d="M1 1h8v2H8v4h2V4h2V2h2v2h2v7h1v2H1v-2h0V3H1z" fill="#fff"/><rect x="3" y="3.5" width="3" height="3" fill="#2b2b2b"/><circle cx="4" cy="13.500" r="2" fill="#fff" stroke="#2b2b2b" stroke-width=".8"/><circle cx="9" cy="13.500" r="2" fill="#fff" stroke="#2b2b2b" stroke-width=".8"/><circle cx="14" cy="13.500" r="2" fill="#fff" stroke="#2b2b2b" stroke-width=".8"/></svg><span class="d">841 m</span><span class="buy"></span><svg class="tr" style="top:6.200px" viewBox="0 0 16 16"><circle cx="8" cy="8" r="8" fill="#a3d43e"/><path d="M4.600 10.600h6.800L8 5z" fill="#26330f"/></svg><span class="sell">€ 823</span></div>
<div class="s a" style="top:53.33px"><svg class="hot" viewBox="0 0 16 16"><path d="M3.400 4A6.100 6.100 0 1 1 3.400 12" fill="none" stroke="#5e5e5e" stroke-width="2"/><path d="M1.300 4.800L5.300 8 1.300 11.200z" fill="#5e5e5e"/><path d="M5.600 4.800L9.600 8 5.600 11.200" fill="none" stroke="#5e5e5e" stroke-width="1.900"/></svg><span class="n" style="left:32.75px;letter-spacing:0.096px">Farmers Market</span><span class="d">668 m</span><span class="buy"></span><svg class="tr" viewBox="0 0 16 16"><circle cx="8" cy="8" r="8" fill="#ee1a1c"/><path d="M5.200 6.200h5.600L8 10.600z" fill="#8a0f10"/></svg><span class="sell">€ 815</span></div>
<div class="s b" style="top:80.00px"><svg class="hot" viewBox="0 0 16 16"><path d="M3.400 4A6.100 6.100 0 1 1 3.400 12" fill="none" stroke="#5e5e5e" stroke-width="2"/><path d="M1.300 4.800L5.300 8 1.300 11.200z" fill="#5e5e5e"/><path d="M5.600 4.800L9.600 8 5.600 11.200" fill="none" stroke="#5e5e5e" stroke-width="1.900"/></svg><span class="n" style="left:33.16px;letter-spacing:0.119px">Supermarket</span><span class="d">1305 m</span><span class="buy"></span><span class="sell">€ 810</span></div>
<div class="s a" style="top:106.67px"><svg class="hot" viewBox="0 0 16 16"><path d="M3.400 4A6.100 6.100 0 1 1 3.400 12" fill="none" stroke="#5e5e5e" stroke-width="2"/><path d="M1.300 4.800L5.300 8 1.300 11.200z" fill="#5e5e5e"/><path d="M5.600 4.800L9.600 8 5.600 11.200" fill="none" stroke="#5e5e5e" stroke-width="1.900"/></svg><span class="n" style="left:33.50px;letter-spacing:0.272px">Warehouse</span><svg class="si" style="left:104.89999999999998px;top:6.300px;width:16px;height:14.200px" viewBox="0 0 18 16"><path d="M5 0h3v4l1.500-1L11 4V0h3v5h3v8H1V5h4z" fill="#fff"/><rect x="0" y="7" width="3" height="7" fill="#fff"/><rect x="15" y="7" width="3" height="7" fill="#fff"/><rect x="7" y="8" width="4" height="3" fill="#3c3c3c"/><circle cx="5" cy="14" r="2" fill="#fff" stroke="#3c3c3c" stroke-width=".8"/><circle cx="13" cy="14" r="2" fill="#fff" stroke="#3c3c3c" stroke-width=".8"/></svg><span class="d">1201 m</span><span class="buy">€ 1,166</span><span class="sell"></span></div>
</div>
<div id="sb2"></div>

<!-- chart -->
<div class="mon" style="left:586.0px">MAR</div>
<div class="mon" style="left:658.5px">APR</div>
<div class="mon" style="left:731.0px">MAY</div>
<div class="mon" style="left:803.5px">JUN</div>
<div class="mon" style="left:876.0px">JUL</div>
<div class="mon" style="left:948.5px">AUG</div>
<div class="mon" style="left:1021.0px">SEP</div>
<div class="mon" style="left:1093.5px">OCT</div>
<div class="mon" style="left:1166.0px">NOV</div>
<div class="mon" style="left:1238.5px">DEC</div>
<div class="mon" style="left:1311.0px">JAN</div>
<div class="mon" style="left:1383.5px">FEB</div>
<svg class="abs" style="left:0;top:0" width="1600" height="900" viewBox="0 0 1600 900">
  <line x1="579.50" y1="520" x2="579.50" y2="833" stroke="#4b4b4b" stroke-width="1.500"/>
<line x1="652.00" y1="520" x2="652.00" y2="833" stroke="#4b4b4b" stroke-width="1.500"/>
<line x1="724.50" y1="520" x2="724.50" y2="833" stroke="#4b4b4b" stroke-width="1.500"/>
<line x1="797.00" y1="520" x2="797.00" y2="833" stroke="#4b4b4b" stroke-width="1.500"/>
<line x1="869.50" y1="520" x2="869.50" y2="833" stroke="#4b4b4b" stroke-width="1.500"/>
<line x1="942.00" y1="520" x2="942.00" y2="833" stroke="#4b4b4b" stroke-width="1.500"/>
<line x1="1014.50" y1="520" x2="1014.50" y2="833" stroke="#4b4b4b" stroke-width="1.500"/>
<line x1="1087.00" y1="520" x2="1087.00" y2="833" stroke="#4b4b4b" stroke-width="1.500"/>
<line x1="1159.50" y1="520" x2="1159.50" y2="833" stroke="#4b4b4b" stroke-width="1.500"/>
<line x1="1232.00" y1="520" x2="1232.00" y2="833" stroke="#4b4b4b" stroke-width="1.500"/>
<line x1="1304.50" y1="520" x2="1304.50" y2="833" stroke="#4b4b4b" stroke-width="1.500"/>
<line x1="1377.00" y1="520" x2="1377.00" y2="833" stroke="#4b4b4b" stroke-width="1.500"/>
<line x1="1449.50" y1="520" x2="1449.50" y2="833" stroke="#4b4b4b" stroke-width="1.500"/>
  <polyline points="616.5,646.4 688.8,655.3 761.5,696.6 834,708 906.3,757.9 978.5,737.6 1051.5,787.4 1123.5,774 1196.5,714 1268,687.3 1341.2,614.3 1413,564.5" fill="none" stroke="#fff" stroke-width="2.200" stroke-linejoin="round"/>
  <line x1="1197.500" y1="520.700" x2="1197.500" y2="832" stroke="#fff" stroke-width="2" stroke-dasharray="6.400 4.270"/>
</svg>
<div class="lab" style="left:1384.700px;top:531.700px;width:58px"></div>
<div class="lab" style="left:1022.300px;top:798.700px;width:57.500px"></div>

<!-- bottom bar -->
<div id="bot">
  <div class="key" style="left:1185px;width:34px">Q</div>
  <div class="ks" style="left:1343px"></div>
  <div class="key" style="left:1357px;width:31px">E</div>
  <div class="ks" style="left:1482px"></div>
  <div class="key" style="left:1495px;width:49px">ESC</div>
</div>
<div class="t" style="left:570.06px;top:155.18px;font-size:14.5px;line-height:19px;letter-spacing:-0.598px;color:#24360a;">PRICES</div>
<div class="t" style="left:664.53px;top:155.18px;font-size:14.5px;line-height:19px;letter-spacing:-0.574px;">VEHICLES</div>
<div class="t" style="left:775.56px;top:155.18px;font-size:14.5px;line-height:19px;letter-spacing:-0.001px;">HAND TOOLS</div>
<div class="t" style="left:913.66px;top:155.18px;font-size:14.5px;line-height:19px;letter-spacing:-0.364px;">FINANCES</div>
<div class="t" style="left:1028.27px;top:155.18px;font-size:14.5px;line-height:19px;letter-spacing:-0.043px;">STATISTICS</div>
<div class="t" style="left:227.59px;top:213.46px;font-size:12.8px;line-height:17px;letter-spacing:-0.077px;color:#c6c6c6;">COMMODITY</div>
<div class="t" style="left:471.62px;top:213.46px;font-size:12.8px;line-height:17px;letter-spacing:-0.201px;color:#c6c6c6;">STORAGE</div>
<div class="t" style="left:607.62px;top:213.46px;font-size:12.8px;line-height:17px;letter-spacing:0.221px;color:#c6c6c6;">STATIONS</div>
<div class="t" style="left:958.07px;top:213.46px;font-size:12.8px;line-height:17px;letter-spacing:0.062px;color:#c6c6c6;">DISTANCE</div>
<div class="t" style="left:1172.17px;top:213.46px;font-size:12.8px;line-height:17px;letter-spacing:-0.192px;color:#c6c6c6;">BUY</div>
<div class="t" style="left:1374.62px;top:213.46px;font-size:12.8px;line-height:17px;letter-spacing:-0.979px;color:#c6c6c6;">SELL</div>
<div class="t" style="left:301.14px;top:80.28px;font-size:29.5px;line-height:38px;letter-spacing:0.090px;font-weight:normal;">PRICES</div>
<div class="t" style="left:1231.40px;top:86.07px;font-size:20px;line-height:26px;letter-spacing:0.400px;font-weight:normal;">BALANCE:</div>
<div class="t" style="left:1341.80px;top:86.07px;font-size:20px;line-height:26px;letter-spacing:0.814px;color:#8ab71d;">13,976 €</div>
<div class="t" style="left:1226.65px;top:875.10px;font-size:13px;line-height:17px;letter-spacing:-0.245px;">PREVIOUS MENU</div>
<div class="t" style="left:1396.15px;top:875.10px;font-size:13px;line-height:17px;letter-spacing:-0.235px;">NEXT MENU</div>
<div class="t" style="left:1551.65px;top:875.10px;font-size:13px;line-height:17px;letter-spacing:-0.510px;">BACK</div>
<div class="t" style="left:1397.94px;top:534.27px;font-size:12.5px;line-height:16px;letter-spacing:0.094px;color:#e0e0e0;">€ 914</div>
<div class="t" style="left:1035.24px;top:800.97px;font-size:12.5px;line-height:16px;letter-spacing:0.172px;color:#e0e0e0;">€ 738</div>
</body>
</html>
